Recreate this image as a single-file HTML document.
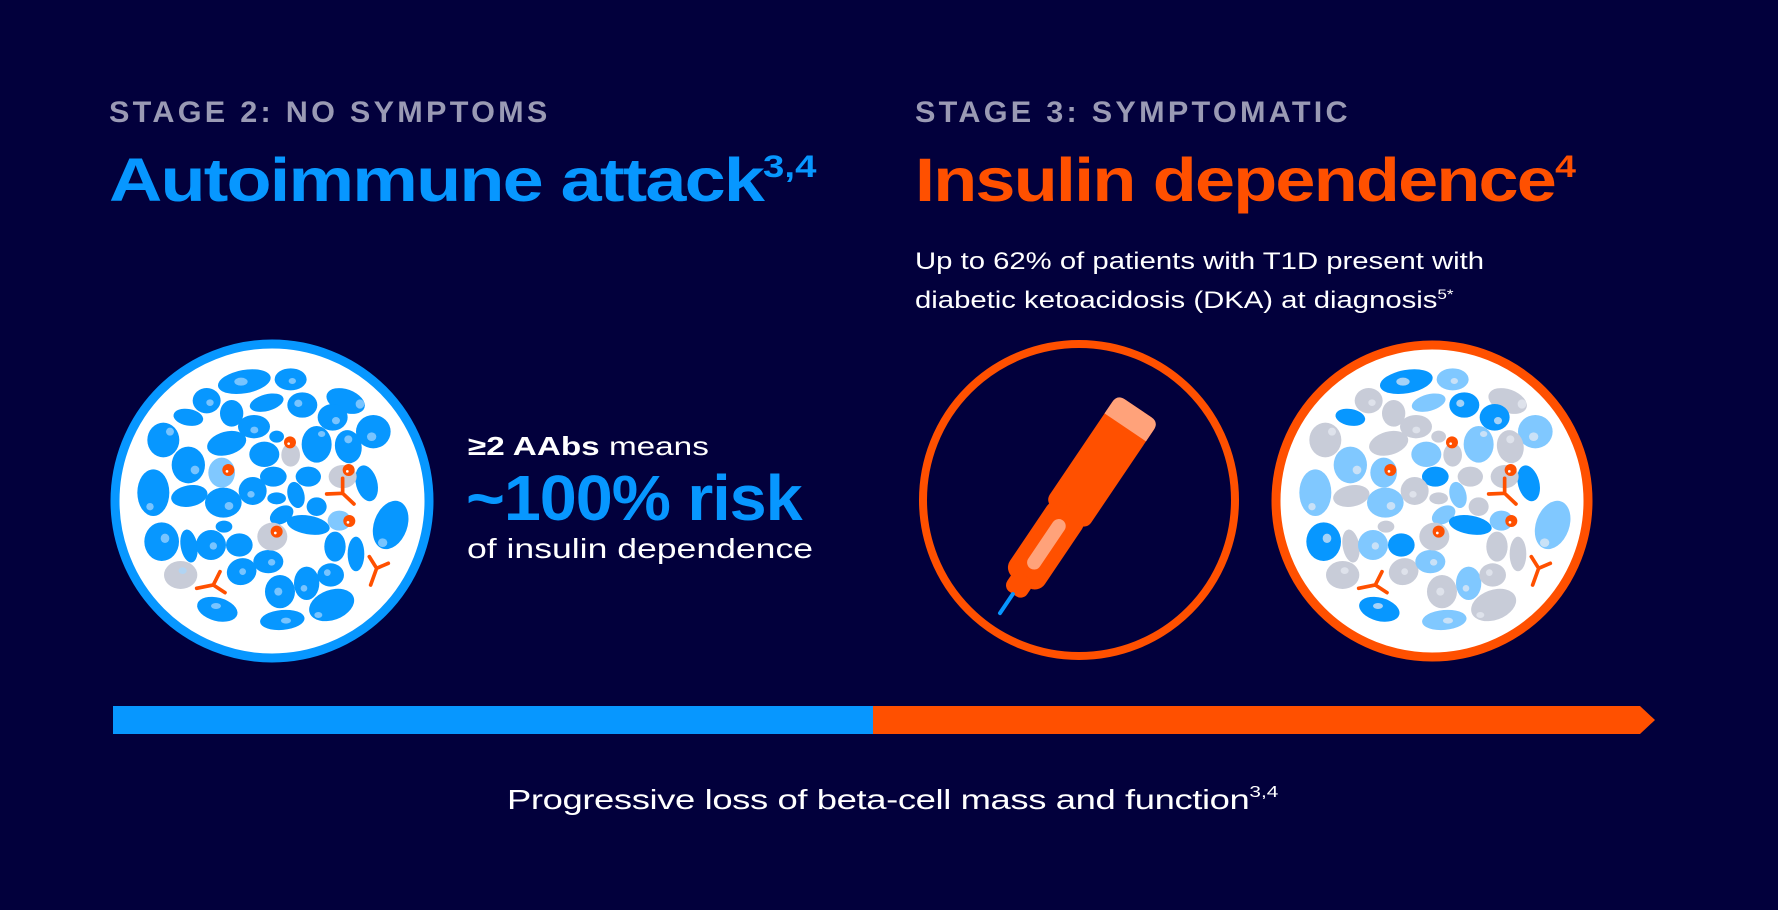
<!DOCTYPE html>
<html><head><meta charset="utf-8"><style>
html,body{margin:0;padding:0}
body{width:1778px;height:910px;background:#02003c;position:relative;overflow:hidden;font-family:"Liberation Sans",sans-serif}
.t{position:absolute;white-space:nowrap;line-height:1;transform-origin:0 0}
.lab{color:#9a9ab4;font-weight:bold;font-size:30px;letter-spacing:3.2px}
.h{font-weight:bold;font-size:61px;letter-spacing:-1.5px}
sup{font-size:0.52em;vertical-align:0;position:relative;top:-0.75em;letter-spacing:0}
</style></head><body>
<div class="t lab" style="left:109px;top:98px;transform:scaleX(1.02)">STAGE 2: NO SYMPTOMS</div>
<div class="t lab" style="left:915px;top:98px;transform:scaleX(1.02)">STAGE 3: SYMPTOMATIC</div>
<div class="t h" style="left:109px;top:150px;color:#0797ff;transform:scaleX(1.21)">Autoimmune attack<sup>3,4</sup></div>
<div class="t h" style="left:915px;top:150px;color:#ff5000;transform:scaleX(1.18)">Insulin dependence<sup>4</sup></div>
<div class="t" style="left:915px;top:242px;color:#fff;font-size:24px;line-height:39px;transform:scaleX(1.22)">Up to 62% of patients with T1D present with<br>diabetic ketoacidosis (DKA) at diagnosis<sup style="font-size:14px;top:-9px">5*</sup></div>
<div class="t" style="left:468px;top:433px;color:#fff;font-size:26px;transform:scaleX(1.28)"><b>≥2 AAbs</b> means</div>
<div class="t" style="left:466px;top:466px;color:#0797ff;font-size:64px;font-weight:bold;letter-spacing:-1px;transform:scaleX(1.04)">~100% risk</div>
<div class="t" style="left:467px;top:535px;color:#fff;font-size:28px;transform:scaleX(1.27)">of insulin dependence</div>
<div class="t" style="left:507px;top:786px;color:#fff;font-size:28px;letter-spacing:-0.3px;transform:scaleX(1.3)">Progressive loss of beta-cell mass and function<sup style="font-size:16px;top:-12px">3,4</sup></div>

<svg width="1778" height="910" style="position:absolute;left:0;top:0">
<defs>
<g id="cells">
<ellipse cx="433" cy="155" rx="80" ry="35" transform="rotate(-10 433 155)" style="fill:var(--a)"/>
<ellipse cx="572" cy="148" rx="48" ry="33" style="fill:var(--b)"/>
<ellipse cx="320" cy="212" rx="42" ry="38" style="fill:var(--c)"/>
<ellipse cx="500" cy="218" rx="52" ry="25" transform="rotate(-15 500 218)" style="fill:var(--b)"/>
<ellipse cx="607" cy="225" rx="45" ry="38" style="fill:var(--a)"/>
<ellipse cx="737" cy="213" rx="60" ry="35" transform="rotate(20 737 213)" style="fill:var(--c)"/>
<ellipse cx="265" cy="262" rx="45" ry="25" transform="rotate(10 265 262)" style="fill:var(--a)"/>
<ellipse cx="395" cy="250" rx="35" ry="40" style="fill:var(--c)"/>
<ellipse cx="462" cy="290" rx="48" ry="35" style="fill:var(--c)"/>
<ellipse cx="698" cy="262" rx="45" ry="40" style="fill:var(--a)"/>
<ellipse cx="820" cy="305" rx="52" ry="50" style="fill:var(--b)"/>
<ellipse cx="190" cy="330" rx="48" ry="52" style="fill:var(--c)"/>
<ellipse cx="380" cy="340" rx="60" ry="35" transform="rotate(-15 380 340)" style="fill:var(--c)"/>
<ellipse cx="530" cy="320" rx="22" ry="18" style="fill:var(--c)"/>
<ellipse cx="650" cy="343" rx="45" ry="55" style="fill:var(--b)"/>
<ellipse cx="745" cy="350" rx="40" ry="50" transform="rotate(-10 745 350)" style="fill:var(--c)"/>
<ellipse cx="493" cy="373" rx="45" ry="38" style="fill:var(--b)"/>
<ellipse cx="265" cy="405" rx="50" ry="55" style="fill:var(--b)"/>
<ellipse cx="520" cy="440" rx="40" ry="30" style="fill:var(--a)"/>
<ellipse cx="625" cy="440" rx="38" ry="30" style="fill:var(--c)"/>
<ellipse cx="160" cy="488" rx="48" ry="70" style="fill:var(--b)"/>
<ellipse cx="268" cy="498" rx="55" ry="32" transform="rotate(-10 268 498)" style="fill:var(--c)"/>
<ellipse cx="370" cy="518" rx="55" ry="45" style="fill:var(--b)"/>
<ellipse cx="458" cy="483" rx="42" ry="42" style="fill:var(--c)"/>
<ellipse cx="530" cy="505" rx="28" ry="18" style="fill:var(--c)"/>
<ellipse cx="588" cy="495" rx="25" ry="40" transform="rotate(-15 588 495)" style="fill:var(--b)"/>
<ellipse cx="650" cy="530" rx="30" ry="28" style="fill:var(--c)"/>
<ellipse cx="800" cy="460" rx="32" ry="55" transform="rotate(-15 800 460)" style="fill:var(--a)"/>
<ellipse cx="545" cy="555" rx="38" ry="25" transform="rotate(-30 545 555)" style="fill:var(--b)"/>
<ellipse cx="625" cy="585" rx="65" ry="28" transform="rotate(10 625 585)" style="fill:var(--a)"/>
<ellipse cx="872" cy="585" rx="50" ry="75" transform="rotate(20 872 585)" style="fill:var(--b)"/>
<ellipse cx="185" cy="635" rx="52" ry="58" style="fill:var(--a)"/>
<ellipse cx="267" cy="648" rx="25" ry="50" transform="rotate(-10 267 648)" style="fill:var(--c)"/>
<ellipse cx="333" cy="645" rx="45" ry="45" style="fill:var(--b)"/>
<ellipse cx="372" cy="590" rx="25" ry="18" style="fill:var(--c)"/>
<ellipse cx="418" cy="645" rx="40" ry="35" style="fill:var(--a)"/>
<ellipse cx="705" cy="650" rx="32" ry="45" style="fill:var(--c)"/>
<ellipse cx="768" cy="672" rx="25" ry="52" style="fill:var(--c)"/>
<ellipse cx="425" cy="725" rx="45" ry="40" transform="rotate(-20 425 725)" style="fill:var(--c)"/>
<ellipse cx="505" cy="695" rx="45" ry="35" style="fill:var(--b)"/>
<ellipse cx="540" cy="785" rx="45" ry="50" style="fill:var(--c)"/>
<ellipse cx="620" cy="760" rx="38" ry="50" style="fill:var(--b)"/>
<ellipse cx="692" cy="735" rx="40" ry="35" style="fill:var(--c)"/>
<ellipse cx="352" cy="838" rx="62" ry="35" transform="rotate(15 352 838)" style="fill:var(--a)"/>
<ellipse cx="547" cy="870" rx="67" ry="30" transform="rotate(-5 547 870)" style="fill:var(--b)"/>
<ellipse cx="695" cy="825" rx="70" ry="45" transform="rotate(-20 695 825)" style="fill:var(--c)"/>
<ellipse cx="572" cy="375" rx="28" ry="35" fill="#c8ccd8"/>
<ellipse cx="242" cy="735" rx="50" ry="42" fill="#c8ccd8"/>
<ellipse cx="517" cy="620" rx="45" ry="42" fill="#c8ccd8"/>
<ellipse cx="728" cy="440" rx="42" ry="35" fill="#c8ccd8"/>
<ellipse cx="365" cy="428" rx="40" ry="45" fill="#80c8ff"/>
<ellipse cx="718" cy="572" rx="35" ry="30" fill="#80c8ff"/>
<g style="fill:var(--n)" opacity="0.7">
<ellipse cx="423" cy="155" rx="20" ry="12"/><ellipse cx="577" cy="153" rx="11" ry="9"/><ellipse cx="330" cy="218" rx="11" ry="10"/>
<ellipse cx="595" cy="220" rx="12" ry="11"/><ellipse cx="780" cy="222" rx="13" ry="14"/><ellipse cx="708" cy="272" rx="12" ry="11"/>
<ellipse cx="815" cy="320" rx="14" ry="13"/><ellipse cx="210" cy="305" rx="12" ry="12"/><ellipse cx="463" cy="300" rx="12" ry="10"/>
<ellipse cx="285" cy="420" rx="13" ry="13"/><ellipse cx="665" cy="312" rx="11" ry="9"/><ellipse cx="745" cy="328" rx="12" ry="12"/>
<ellipse cx="150" cy="530" rx="11" ry="11"/><ellipse cx="387" cy="528" rx="13" ry="12"/><ellipse cx="453" cy="493" rx="11" ry="10"/>
<ellipse cx="195" cy="625" rx="13" ry="14"/><ellipse cx="340" cy="648" rx="11" ry="11"/><ellipse cx="535" cy="785" rx="12" ry="12"/>
<ellipse cx="848" cy="638" rx="14" ry="13"/><ellipse cx="655" cy="855" rx="12" ry="9"/><ellipse cx="348" cy="828" rx="15" ry="9"/>
<ellipse cx="558" cy="872" rx="15" ry="9"/><ellipse cx="612" cy="775" rx="10" ry="10"/><ellipse cx="682" cy="728" rx="10" ry="10"/>
<ellipse cx="428" cy="725" rx="10" ry="10"/><ellipse cx="515" cy="697" rx="11" ry="10"/><ellipse cx="248" cy="722" rx="12" ry="10"/>
</g>
<g fill="#ff5000"><circle cx="570" cy="337" r="18"/><circle cx="385" cy="420" r="18"/><circle cx="746" cy="420" r="18"/><circle cx="530" cy="605" r="18"/><circle cx="748" cy="573" r="18"/></g>
<g fill="#fff"><circle cx="566" cy="341" r="4"/><circle cx="381" cy="424" r="4"/><circle cx="742" cy="424" r="4"/><circle cx="526" cy="609" r="4"/><circle cx="744" cy="577" r="4"/></g>
<g stroke="#ff5000" stroke-width="11" stroke-linecap="round" fill="none">
<path d="M728 445 V490 M728 490 L680 492 M728 490 L762 522"/>
<path d="M360 725 L340 765 M340 765 L290 775 M340 765 L375 788"/>
<path d="M808 680 L830 715 M830 715 L865 700 M830 715 L812 765"/>
</g>
</g>
</defs>

<circle cx="272" cy="501" r="157" fill="#fff" stroke="#0797ff" stroke-width="9"/>
<g transform="translate(100,330) scale(0.3333)" style="--a:#0797ff;--b:#0797ff;--c:#0797ff;--n:#a8d8ff">
<use href="#cells"/>
</g>
<circle cx="1432" cy="501" r="156" fill="#fff" stroke="#ff5000" stroke-width="9"/>
<g transform="translate(1262,330) scale(0.3333)" style="--a:#0797ff;--b:#80c8ff;--c:#c8ccd8;--n:#e8ecf4">
<use href="#cells"/>
</g>

<circle cx="1079" cy="500" r="156" fill="none" stroke="#ff5000" stroke-width="8"/>
<g transform="translate(1137,410) rotate(34)">
<rect x="-25" y="-2" width="50" height="130" rx="9" fill="#ff5000"/>
<path d="M-25 7 Q-25 -2 -16 -2 H16 Q25 -2 25 7 V21 H-25Z" fill="#ffa27a"/>
<rect x="-21" y="118" width="42" height="90" rx="12" fill="#ff5000"/>
<rect x="-7" y="133" width="14" height="58" rx="7" fill="#ffa27a"/>
<rect x="-12" y="200" width="24" height="22" rx="8" fill="#ff5000"/>
<line x1="0" y1="222" x2="0" y2="245" stroke="#0797ff" stroke-width="4" stroke-linecap="round"/>
</g>

<rect x="113" y="706" width="760" height="28" fill="#0797ff"/>
<path d="M873 706 H1640 L1655 720 L1640 734 H873Z" fill="#ff5000"/>
</svg>
</body></html>
